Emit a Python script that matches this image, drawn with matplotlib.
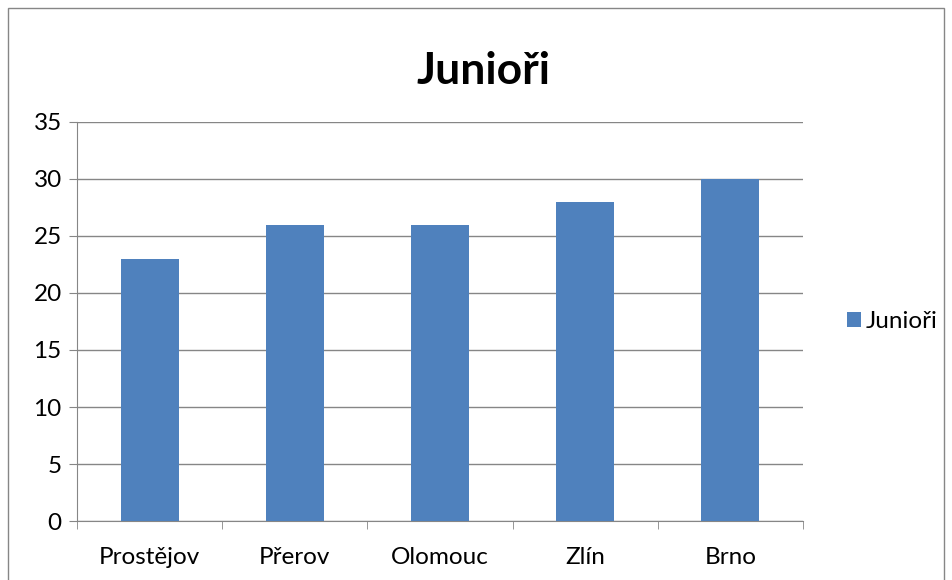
import matplotlib.pyplot as plt
from matplotlib.patches import Rectangle

# chart data
categories = ['Prostějov', 'Přerov', 'Olomouc', 'Zlín', 'Brno']
values = [23, 26, 26, 28, 30]
series_name = 'Junioři'

plt.rcParams['font.family'] = ['Lato', 'DejaVu Sans']

fig = plt.figure(figsize=(9.52, 5.8), dpi=100)
ax = fig.add_axes([0.0809, 0.1017, 0.7626, 0.688])

x = range(len(categories))
ax.bar(x, values, width=0.4, color='#4F81BD', label=series_name, zorder=3)

ax.set_xlim(-0.5, len(categories) - 0.5)
ax.set_ylim(0, 35)
ax.set_yticks(range(0, 36, 5))
ax.yaxis.grid(True, color='#868686', linewidth=1, zorder=0)

# category labels centred, tick marks between categories
ax.set_xticks(list(x))
ax.set_xticklabels(categories)
ax.tick_params(axis='x', length=0, labelsize=17.5, pad=19)
ax.set_xticks([i - 0.5 for i in range(len(categories) + 1)], minor=True)
ax.tick_params(axis='x', which='minor', length=6, color='#868686', direction='out')
ax.tick_params(axis='y', length=6, color='#868686', labelsize=17.5, pad=5)

for side in ['top', 'right']:
    ax.spines[side].set_visible(False)
for side in ['left', 'bottom']:
    ax.spines[side].set_color('#868686')

fig.text(0.508, 0.878, series_name, ha='center', va='center',
         fontsize=32, fontweight='bold')

ax.legend(loc='center left', bbox_to_anchor=(1.03, 0.5), frameon=False,
          fontsize=17.5, handlelength=0.6, handleheight=0.6, handletextpad=0.2)

# chart area border
fig.patches.append(Rectangle((8 / 952, -0.01), 936 / 952, 1 - 8 / 580 + 0.01,
                             transform=fig.transFigure, fill=False,
                             edgecolor='#868686', linewidth=1))

fig.savefig('out.png', dpi=100)
